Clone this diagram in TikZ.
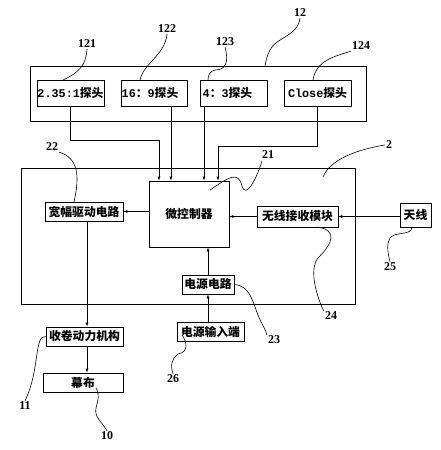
\documentclass[tikz,border=0pt]{standalone}
\usepackage{fontspec}
\setmainfont{Liberation Serif}
\newfontfamily\cjk{Noto Sans CJK SC}
\newfontfamily\mono{Liberation Mono}
\usetikzlibrary{arrows.meta}
\tikzset{
  box/.style={draw, line width=0.8pt, inner sep=0pt, font=\cjk\bfseries\fontsize{11.8}{12}\selectfont},
  arr/.style={line width=0.6pt, -{Latex[length=4pt,width=3pt]}},
  conn/.style={line width=0.6pt},
  lead/.style={line width=0.6pt},
  lbl/.style={font=\bfseries\fontsize{12}{12}\selectfont, inner sep=1pt}
}
\begin{document}
\begin{tikzpicture}[x=1pt,y=-1pt]
\useasboundingbox (0,0) rectangle (440,450);
% frames
\node[box, minimum width=336pt, minimum height=55pt] (b12) at (198,93.5) {};
\node[box, minimum width=334pt, minimum height=136pt] (b2) at (188,236) {};
% probe boxes
\node[box, minimum width=67pt, minimum height=26pt] (p121) at (70.5,93) {{\mono\bfseries 2.35:1}探头};
\node[box, minimum width=66pt, minimum height=26pt] (p122) at (154,93) {\hspace*{-8pt}{\mono\bfseries 16}：{\mono\bfseries 9}探头};
\node[box, minimum width=67pt, minimum height=26pt] (p123) at (233.5,93) {\hspace*{-12pt}{\mono\bfseries 4}：{\mono\bfseries 3}探头};
\node[box, minimum width=67pt, minimum height=26pt] (p124) at (317.5,93) {{\mono\bfseries Close}探头};
% inner boxes
\node[box, minimum width=80pt, minimum height=66pt] (mcu) at (189,214) {微控制器};
\node[box, minimum width=78pt, minimum height=19pt] (drive) at (84,211.5) {宽幅驱动电路};
\node[box, minimum width=81pt, minimum height=21pt] (wifi) at (297.5,216.5) {无线接收模块};
\node[box, minimum width=31pt, minimum height=24pt] (ant) at (415.5,215) {天线};
\node[box, minimum width=52pt, minimum height=19pt] (pwr) at (208,284.5) {电源电路};
\node[box, minimum width=77pt, minimum height=19pt] (reel) at (84.5,336.5) {收卷动力机构};
\node[box, minimum width=80pt, minimum height=19pt] (scr) at (83,382.5) {幕布};
\node[box, minimum width=67pt, minimum height=19pt] (pin) at (210.5,331.5) {电源输入端};
% connectors
\draw[arr] (p121.south) |- (159,140) -- ([xshift=-30pt]mcu.north);
\draw[arr] ([xshift=17pt]p122.south) -- ([xshift=-18pt]mcu.north);
\draw[arr] ([xshift=-29.5pt]p123.south) -- ([xshift=15pt]mcu.north);
\draw[arr] (p124.south) |- (218,146) -- ([xshift=29pt]mcu.north);
\draw[arr] (mcu.west |- drive.east) -- (drive.east);
\draw[arr] (wifi.west) -- (wifi.west -| mcu.east);
\draw[arr] (ant.west |- wifi.east) -- (wifi.east);
\draw[arr] (pwr.north) -- (pwr.north |- mcu.south);
\draw[arr] (pwr.south |- pin.north) -- (pwr.south);
\draw[arr] ([xshift=3pt]drive.south) -- ([xshift=3pt]drive.south |- reel.north);
\draw[arr] ([xshift=3pt]drive.south |- reel.south) -- ([xshift=3pt]drive.south |- scr.north);
% labels
\node[lbl] (l121) at (87,44) {121};
\node[lbl] (l122) at (167,29) {122};
\node[lbl] (l123) at (225,42) {123};
\node[lbl] (l12) at (300,13) {12};
\node[lbl] (l124) at (361,46) {124};
\node[lbl] (l22) at (52,147) {22};
\node[lbl] (l21) at (268,155) {21};
\node[lbl] (l2) at (389,145) {2};
\node[lbl] (l25) at (390,267) {25};
\node[lbl] (l24) at (331,316) {24};
\node[lbl] (l23) at (274,340) {23};
\node[lbl] (l26) at (173,379) {26};
\node[lbl] (l11) at (25,406) {11};
\node[lbl] (l10) at (107,436) {10};
% leader lines
\draw[lead] (l121.south) .. controls (86,66) and (78,73) .. (63,80);
\draw[lead] (l122.south) .. controls (165,55) and (143,64) .. (140,80);
\draw[lead] (l123.south) .. controls (229,62) and (226,70) .. (215,70) .. controls (210,71) and (208,75) .. (208,80);
\draw[lead] (l12.south) .. controls (298,36) and (275,38) .. (270,50) .. controls (267,56) and (266,60) .. (265,66);
\draw[lead] (l124.south west) .. controls (336,56) and (316,60) .. (313,80);
\draw[lead] (l22.south east) .. controls (78,158) and (80,175) .. (74,202);
\draw[lead] (210,190) .. controls (228,178) and (238,170) .. (242,186) .. controls (246,199) and (256,180) .. (262,161);
\draw[lead] (l2.west) .. controls (355,150) and (330,160) .. (323,177);
\draw[lead] (412,227) .. controls (412,236) and (395,231) .. (390,238) .. controls (387,243) and (387,250) .. (l25.north);
\draw[lead] (317,227) .. controls (338,230) and (333,243) .. (318,258) .. controls (308,270) and (318,300) .. (l24.north west);
\draw[lead] (pwr.east) .. controls (250,286) and (252,300) .. (258,315) .. controls (262,325) and (266,330) .. (l23.north west);
\draw[lead] (182,335) .. controls (186,340) and (190,352) .. (178,354) .. controls (172,358) and (170,365) .. (l26.north);
\draw[lead] (reel.west) .. controls (34,335) and (40,370) .. (l11.north);
\draw[lead] (96,388) .. controls (100,395) and (98,400) .. (96,408) .. controls (94,417) and (102,422) .. (l10.north);
\end{tikzpicture}
\end{document}
